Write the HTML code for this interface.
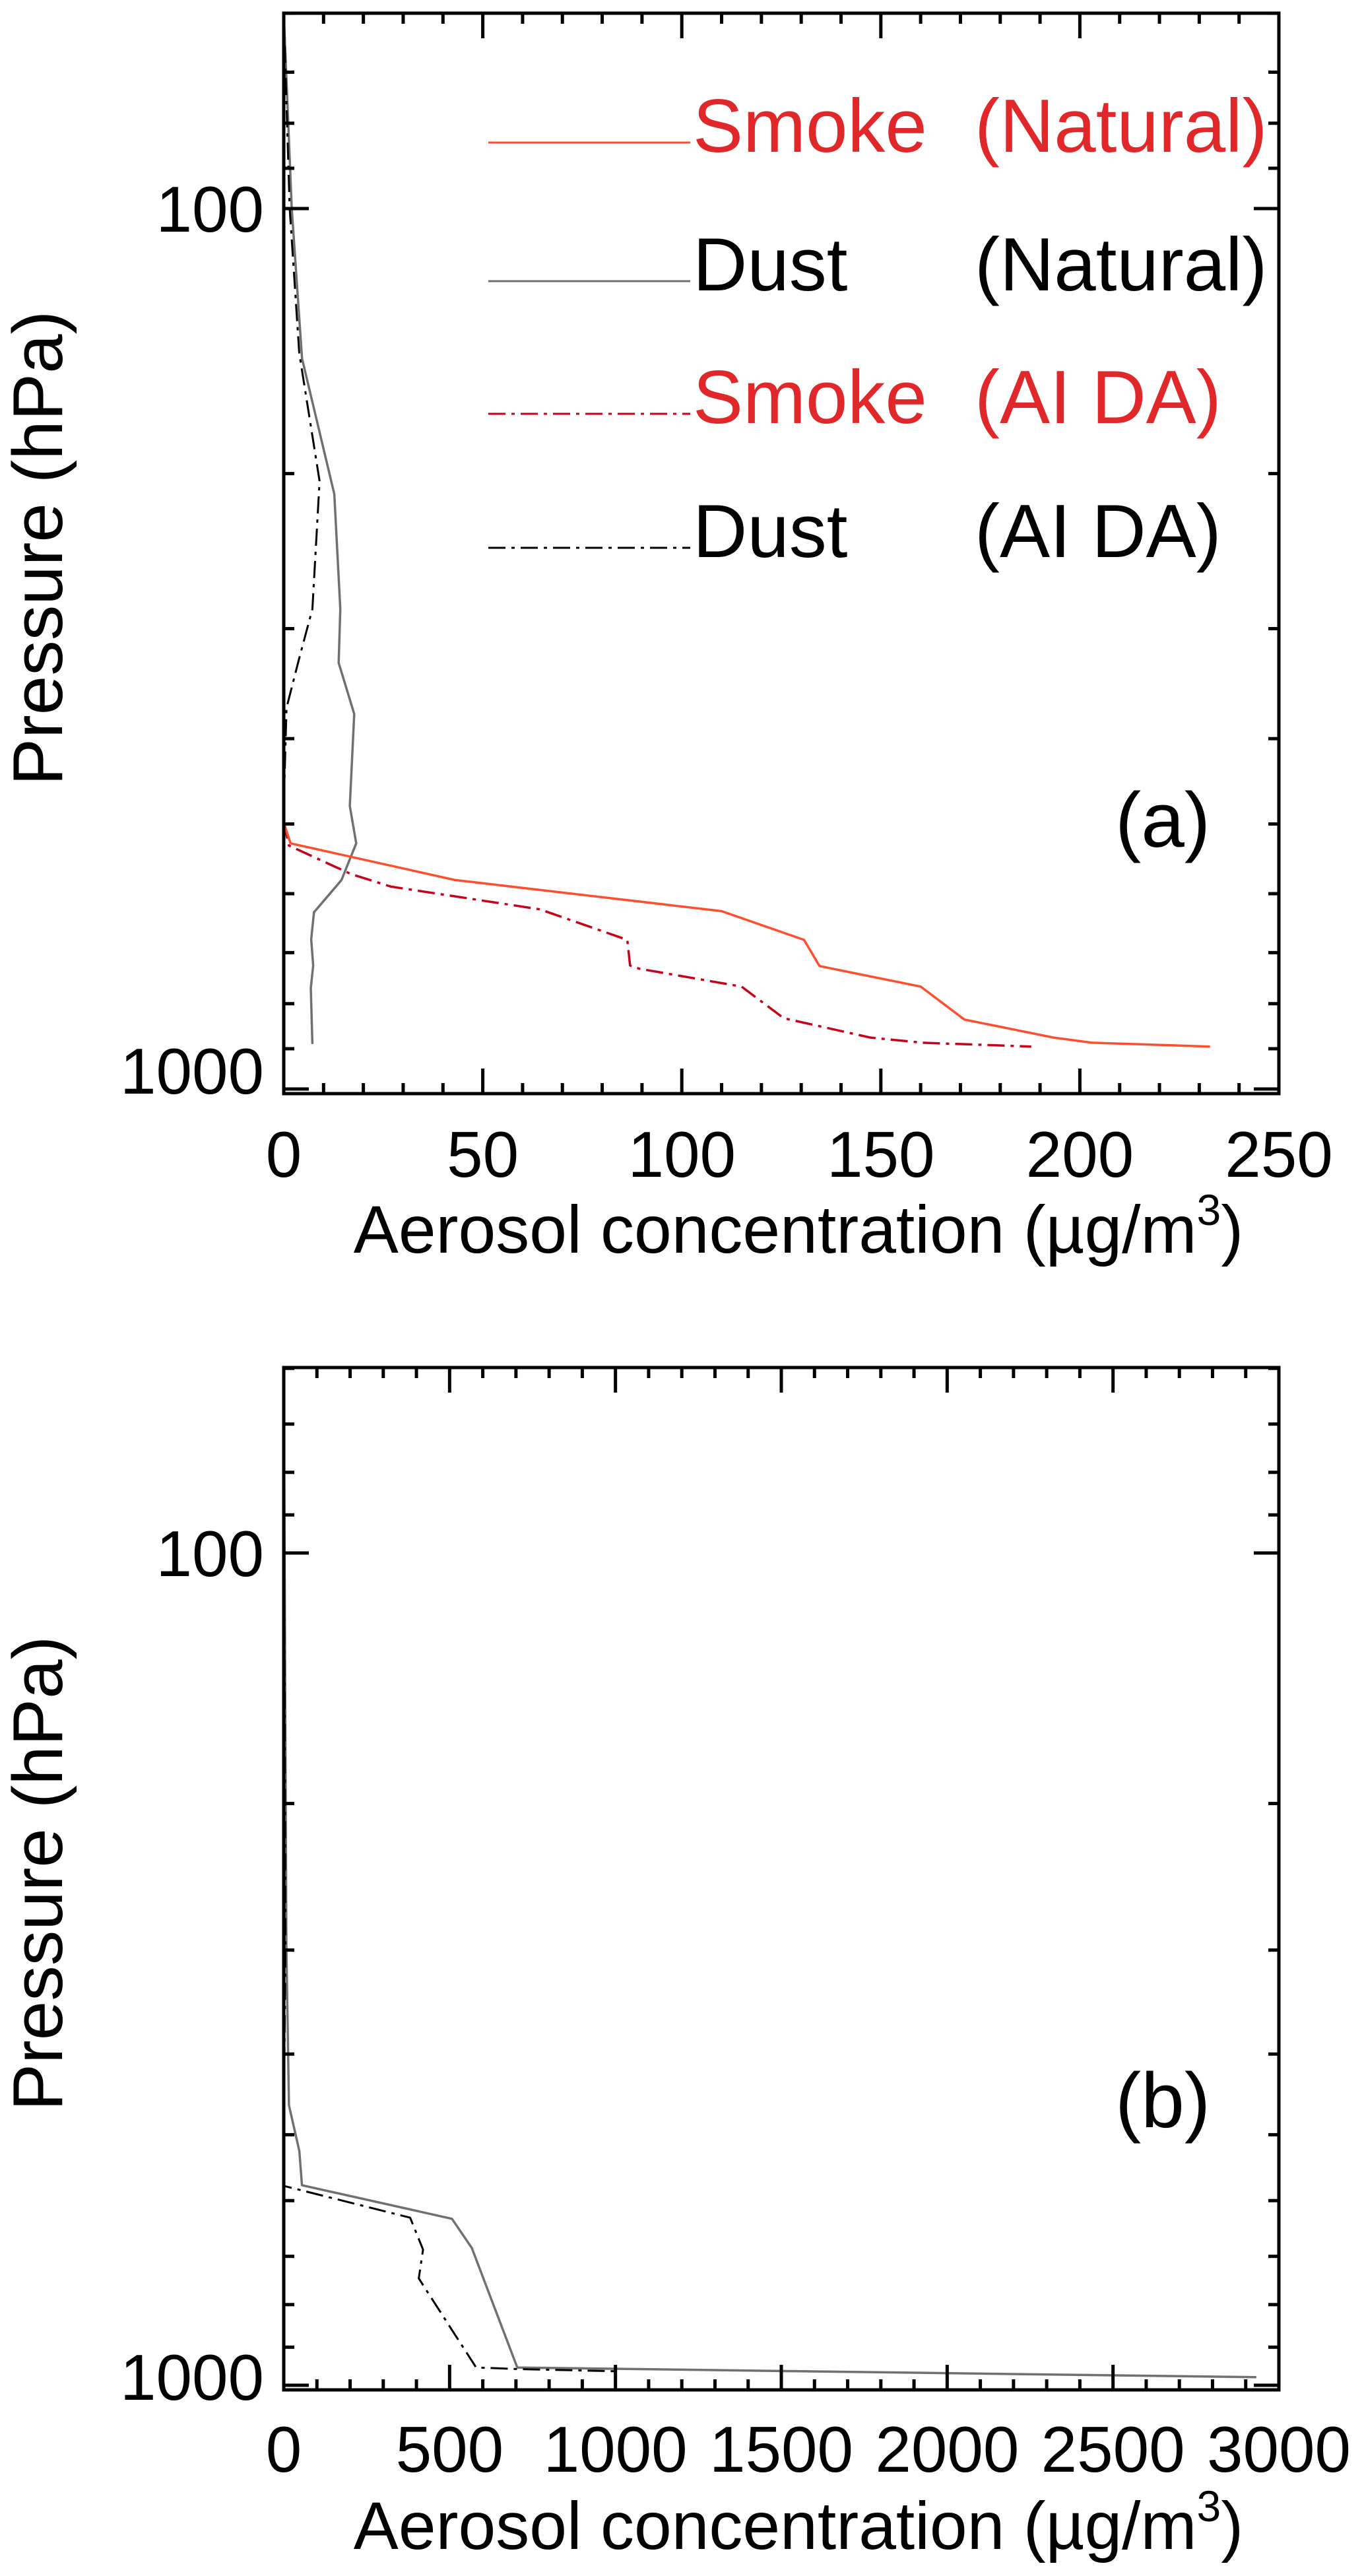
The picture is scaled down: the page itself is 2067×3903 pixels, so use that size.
<!DOCTYPE html>
<html><head><meta charset="utf-8"><style>
html,body{margin:0;padding:0;background:#fff;}
svg{display:block;font-family:"Liberation Sans",Helvetica,Arial,sans-serif;}
</style></head><body>
<svg id="fig" width="2067" height="3903" viewBox="0 0 2067 3903" xmlns="http://www.w3.org/2000/svg"></svg>
<script>
// ---- Panel (a) data: [concentration, pressure hPa]
const smokeNatA = [[0,60],[0,498],[1.7,526],[43.1,579],[110,628],[130.7,677],[134.6,725],[160,765],[171,834],[184.6,858],[193.3,874],[203.1,886],[232.7,895]];
const dustNatA = [[0,60],[2,100],[4.6,148],[12.7,211],[14.2,285],[13.8,328],[17.7,375],[16.6,477],[18.2,526],[14.5,579],[7.6,630],[6.9,676],[7.4,724],[6.8,768],[7.2,889]];
const smokeDAA = [[0,60],[0,498],[1.3,529],[16.9,570],[26.9,589],[64.3,625],[86.3,677],[87,724],[89.3,730],[115,765],[125.6,831],[147.3,874],[160.5,886],[187.8,895]];
const dustDAA = [[0,60],[1.5,100],[3.9,146],[9,204],[7.2,285],[3.9,324],[0.7,369],[0,477],[0,500]];
// ---- Panel (b) data
const smokeNatB = [[0,60],[0,978]];
const dustNatB = [[0,60],[8,299],[15.8,461],[47,523],[55,575],[507,631],[567,684],[704,952],[2932,978]];
const dustDAB = [[0,60],[5,300],[0,500],[0,576],[381,629],[420,687],[407,744],[580,952],[704,956],[1000,962]];
// ---- axis tick values
const xTicksA = [0,50,100,150,200,250];
const xTicksB = [0,500,1000,1500,2000,2500,3000];
const yMinor = [60,70,80,90,200,300,400,500,600,700,800,900];
const yMajor = [100,1000];

const NS = "http://www.w3.org/2000/svg";
const svg = document.getElementById('fig');
function el(tag, attrs, parent){ const e=document.createElementNS(NS,tag); for(const k in attrs) e.setAttribute(k,attrs[k]); (parent||svg).appendChild(e); return e; }

function panel(cfg){
  const {id,left,right,top,bottom,y100,y1000,xmax,xmajor,xminor,xticks,series,letter,letterY,titleY,xlabY,lab1000Y} = cfg;
  const g = el('g',{});
  
  
  const dec = y1000 - y100;
  const X = v => left + v*(right-left)/xmax;
  const Y = p => y100 + dec*Math.log10(p/100);
  series.forEach(s=>{
    const d = s.data.map((pt,i)=>(i?'L':'M')+X(pt[0]).toFixed(1)+' '+Y(pt[1]).toFixed(1)).join(' ');
    const p = el('path',{d:d,fill:'none',stroke:s.color,'stroke-width':s.w||3.5,'stroke-linejoin':'round'},g);
    if(s.dash) p.setAttribute('stroke-dasharray',s.dash);
    
    
  });
  const fr = el('rect',{x:left,y:top,width:right-left,height:bottom-top,fill:'none',stroke:'#000','stroke-width':5},g);
  
  
  for(let v=0; v<=xmax+1e-9; v+=xminor){
    const major = Math.abs(v/xmajor - Math.round(v/xmajor))<1e-6;
    const L = major?38:16;
    el('line',{x1:X(v),x2:X(v),y1:bottom,y2:bottom-L,stroke:'#000','stroke-width':5},g);
    el('line',{x1:X(v),x2:X(v),y1:top,y2:top+L,stroke:'#000','stroke-width':5},g);
  }
  xticks.forEach(v=>{
    const t = el('text',{x:X(v),y:xlabY,'font-size':98,'text-anchor':'middle',fill:'#000'},g);
    t.textContent = v;
    
    
  });
  yMinor.forEach(p=>{
    el('line',{x1:left,x2:left+16,y1:Y(p),y2:Y(p),stroke:'#000','stroke-width':5},g);
    el('line',{x1:right,x2:right-16,y1:Y(p),y2:Y(p),stroke:'#000','stroke-width':5},g);
  });
  yMajor.forEach(p=>{
    el('line',{x1:left,x2:left+38,y1:Y(p),y2:Y(p),stroke:'#000','stroke-width':5},g);
    el('line',{x1:right,x2:right-38,y1:Y(p),y2:Y(p),stroke:'#000','stroke-width':5},g);
    const t = el('text',{x:400,y:(p===1000?lab1000Y:Y(p)+35),'font-size':98,'text-anchor':'end',fill:'#000'},g);
    t.textContent = p;
    
    
  });
  const yt = el('text',{x:0,y:0,'font-size':107,'text-anchor':'middle',fill:'#000',transform:`translate(94,${(top+bottom)/2-8}) rotate(-90)`},g);
  yt.textContent = 'Pressure (hPa)';
  
  
  const xt = el('text',{x:1210,y:titleY,'font-size':102,'text-anchor':'middle',fill:'#000'},g);
  xt.innerHTML = 'Aerosol concentration (µg/m<tspan dy="-42" font-size="66">3</tspan><tspan dy="42">)</tspan>';
  
  
  const lt = el('text',{x:1690,y:letterY,'font-size':118,fill:'#000'},g);
  lt.textContent = letter;
  
  
}

const RED1='#ff4e2e', RED2='#c8001a', GRAY='#707070', DD='26 9 5 9';
panel({id:'panel-a',left:430,right:1938,top:20,bottom:1657,y100:316,y1000:1650,xmax:250,xmajor:50,xminor:10,xticks:xTicksA,
  series:[{name:'dust-natural-line',data:dustNatA,color:GRAY},{name:'dust-ai-da-line',data:dustDAA,color:'#000',dash:DD,w:3},
          {name:'smoke-ai-da-line',data:smokeDAA,color:RED2,dash:DD},{name:'smoke-natural-line',data:smokeNatA,color:RED1}],
  letter:'(a)',letterY:1283,titleY:1898,xlabY:1783,lab1000Y:1657});
panel({id:'panel-b',left:430,right:1938,top:2072,bottom:3621,y100:2353,y1000:3614,xmax:3000,xmajor:500,xminor:100,xticks:xTicksB,
  series:[{name:'dust-natural-line',data:dustNatB,color:GRAY},{name:'dust-ai-da-line',data:dustDAB,color:'#000',dash:DD,w:3},
          {name:'smoke-natural-line',data:smokeNatB,color:RED1}],
  letter:'(b)',letterY:3223,titleY:3862,xlabY:3745,lab1000Y:3636});

const leg = el('g',{});


const legNames = ['Smoke','Dust','Smoke','Dust'];
const legTags = ['(Natural)','(Natural)','(AI DA)','(AI DA)'];
const legStyles = [{c:RED1,t:'#e0282a'},{c:GRAY,t:'#000'},{c:RED2,t:'#e0282a',dash:DD},{c:'#000',t:'#000',dash:DD}];
const legLineY = [216,426,627,830];
legNames.forEach((n,i)=>{
  const ln = el('line',{x1:740,x2:1046,y1:legLineY[i],y2:legLineY[i],stroke:legStyles[i].c,'stroke-width':3},leg);
  if(legStyles[i].dash) ln.setAttribute('stroke-dasharray',legStyles[i].dash);
  
  
  const t1 = el('text',{x:1050,y:legLineY[i]+14,'font-size':114,fill:legStyles[i].t},leg);
  t1.textContent = n;
  
  
  const t2 = el('text',{x:1477,y:legLineY[i]+14,'font-size':114,fill:legStyles[i].t},leg);
  t2.textContent = legTags[i];
  
  
});
</script>
</body></html>
